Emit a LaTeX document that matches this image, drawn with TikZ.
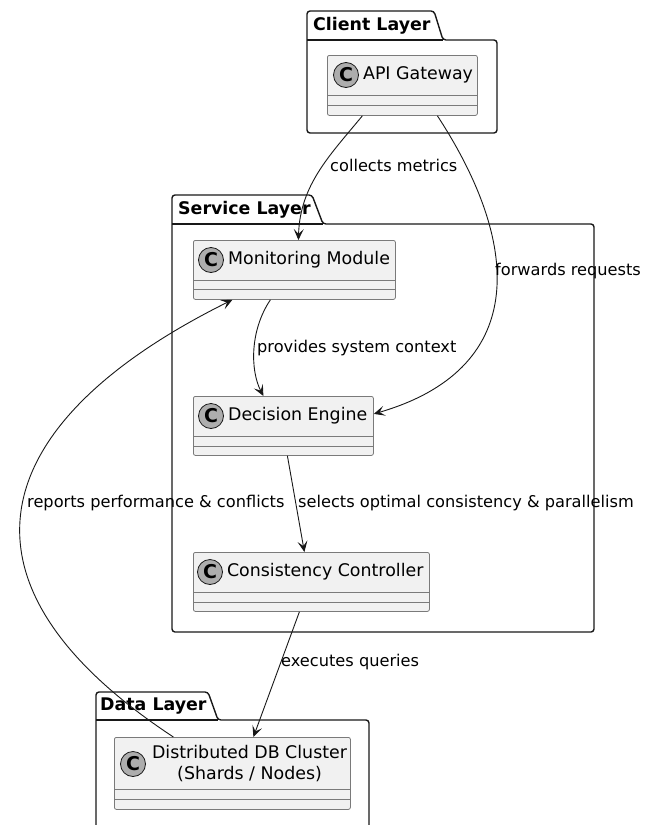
\documentclass[tikz,border=0pt]{standalone}
\usepackage{fontspec}
\setmainfont{DejaVu Sans}
\usetikzlibrary{positioning, arrows.meta, calc}
\definecolor{classfill}{HTML}{F1F1F1}
\definecolor{classline}{HTML}{7A7A7A}
\definecolor{badgefill}{HTML}{ADADAD}
\definecolor{inkline}{HTML}{181818}
\tikzset{
  package/.style={
    draw=inkline,
    line width=1.4pt,
    rounded corners=3pt
  },
  pkgtitle/.style={
    anchor=west,
    inner sep=0pt,
    font=\fontsize{17.4}{20}\selectfont\bfseries
  },
  umlclass/.style={
    draw=classline,
    fill=classfill,
    line width=0.8pt,
    rounded corners=2pt,
    anchor=north west,
    inner sep=0pt,
    minimum height=59pt
  },
  divider/.style={
    draw=classline,
    line width=0.8pt
  },
  badge/.style={
    circle,
    draw=inkline,
    line width=0.8pt,
    fill=badgefill,
    minimum size=25pt,
    inner sep=0pt,
    font=\fontsize{19}{19}\selectfont\bfseries
  },
  classname/.style={
    inner sep=0pt,
    font=\fontsize{17.4}{21}\selectfont
  },
  edgelabel/.style={
    anchor=west,
    inner sep=0pt,
    font=\fontsize{16.2}{19}\selectfont
  },
  flow/.style={
    draw=inkline,
    line width=0.9pt,
    -{Stealth[length=11pt, width=10pt, inset=5pt]}
  }
}

\begin{document}
\begin{tikzpicture}[x=1pt, y=-1pt]
        \useasboundingbox (0,0) rectangle (656,825);
        \clip (0,0) rectangle (656,825);

        \draw[package] (307,40) -- (307,11) -- (434,11) -- (443,40) -- (497,40) -- (497,133) -- (307,133) -- cycle;
        \draw[package] (307,40) -- (443,40);
        \node[pkgtitle] (clienttitle) at (313,25.5) {Client Layer};

        \draw[package] (172,224) -- (172,195) -- (312,195) -- (323,224) -- (594,224) -- (594,632) -- (172,632) -- cycle;
        \draw[package] (172,224) -- (323,224);
        \node[pkgtitle] (servicetitle) at (178,209.5) {Service Layer};

        \draw[package] (96,720) -- (96,692) -- (208,692) -- (218,720) -- (369,720) -- (369,860) -- (96,860) -- cycle;
        \draw[package] (96,720) -- (218,720);
        \node[pkgtitle] (datatitle) at (100,706) {Data Layer};

        \node[umlclass, minimum width=150pt, minimum height=60pt] (api) at (327,55) {};
        \draw[divider] ([yshift=-40pt]api.north west) -- ([yshift=-40pt]api.north east);
        \draw[divider] ([yshift=-50pt]api.north west) -- ([yshift=-50pt]api.north east);
        \node[badge] (apibadge) at ($(api.north west)+(19,20)$) {C};
        \node[classname, right=4pt of apibadge] (apiname) {API Gateway};

        \node[umlclass, minimum width=202pt] (mm) at (193,240) {};
        \draw[divider] ([yshift=-40pt]mm.north west) -- ([yshift=-40pt]mm.north east);
        \draw[divider] ([yshift=-49pt]mm.north west) -- ([yshift=-49pt]mm.north east);
        \node[badge] (mmbadge) at ($(mm.north west)+(18,20)$) {C};
        \node[classname, right=4pt of mmbadge] (mmname) {Monitoring Module};

        \node[umlclass, minimum width=180pt] (de) at (193,396) {};
        \draw[divider] ([yshift=-40pt]de.north west) -- ([yshift=-40pt]de.north east);
        \draw[divider] ([yshift=-50pt]de.north west) -- ([yshift=-50pt]de.north east);
        \node[badge] (debadge) at ($(de.north west)+(18,20)$) {C};
        \node[classname, right=4pt of debadge] (dename) {Decision Engine};

        \node[umlclass, minimum width=236pt] (cc) at (193,552) {};
        \draw[divider] ([yshift=-40pt]cc.north west) -- ([yshift=-40pt]cc.north east);
        \draw[divider] ([yshift=-50pt]cc.north west) -- ([yshift=-50pt]cc.north east);
        \node[badge] (ccbadge) at ($(cc.north west)+(17,20)$) {C};
        \node[classname, right=4pt of ccbadge] (ccname) {Consistency Controller};

        \node[umlclass, minimum width=236pt, minimum height=72pt] (db) at (114,737) {};
        \draw[divider] ([yshift=-52pt]db.north west) -- ([yshift=-52pt]db.north east);
        \draw[divider] ([yshift=-62pt]db.north west) -- ([yshift=-62pt]db.north east);
        \node[badge] (dbbadge) at ($(db.north west)+(19,27)$) {C};
        \node[classname, align=center, right=6pt of dbbadge] (dbname) {Distributed DB Cluster\\(Shards / Nodes)};

        \draw[flow] ([xshift=-40pt]api.south) .. controls (330,155) and (300,185) .. ([xshift=4pt]mm.north);
        \draw[flow] ([xshift=35pt]api.south) .. controls (525,250) and (525,370) .. ([yshift=12pt]de.east);
        \draw[flow] ([xshift=-24pt]mm.south) .. controls (250,330) and (250,370) .. ([xshift=-20pt]de.north);
        \draw[flow] ([xshift=4pt]de.south) -- ([xshift=-7pt]cc.north);
        \draw[flow] ([xshift=-12pt]cc.south) -- ([xshift=21pt]db.north);
        \draw[flow] ([xshift=-59pt]db.north) .. controls (-65,580) and (-10,420) .. ([xshift=-62pt]mm.south);

        \node[edgelabel] (lblcollect) at (330,165) {collects metrics};
        \node[edgelabel] (lblforward) at (495,271) {forwards requests};
        \node[edgelabel] (lblcontext) at (257,348) {provides system context};
        \node[edgelabel] (lblreport) at (27,503) {reports performance \& conflicts};
        \node[edgelabel] (lblselect) at (298,503) {selects optimal consistency \& parallelism};
        \node[edgelabel] (lblexec) at (281,662) {executes queries};
\end{tikzpicture}
\end{document}
